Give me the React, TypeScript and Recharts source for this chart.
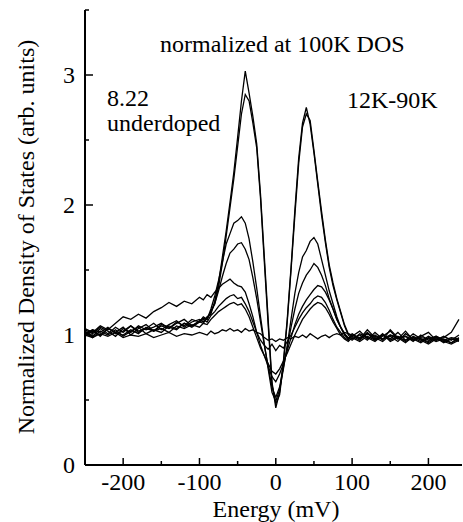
import { LineChart, Line, XAxis, YAxis } from 'recharts'

// energy grid (mV): coarse in the tails, finer around the gap
const energy = [
  -250, -240, -230, -220, -210, -200, -190, -180, -170, -160, -150, -140, -130, -120, -110, -100,
  -95, -90, -85, -80, -75, -70, -65, -60, -55, -50, -45, -40, -35, -30, -25, -20, -15, -10, -5, 0,
  5, 10, 15, 20, 25, 30, 35, 40, 45, 50, 55, 60, 65, 70, 75, 80, 85, 90, 95,
  100, 110, 120, 130, 140, 150, 160, 170, 180, 190, 200, 210, 220, 230, 240,
]

const dosA = [
  1.03, 0.99, 1.05, 1.01, 1.06, 1.02, 1.07, 1.03, 1.05, 1.09, 1.04, 1.08, 1.11, 1.06, 1.10, 1.12,
  1.10, 1.14, 1.16, 1.26, 1.40, 1.60, 1.80, 2.02, 2.25, 2.52, 2.80, 3.03, 2.86, 2.68, 2.47, 2.08, 1.60, 1.12, 0.64, 0.44,
  0.56, 0.80, 1.12, 1.52, 1.96, 2.36, 2.63, 2.75, 2.62, 2.40, 2.16, 1.92, 1.71, 1.52, 1.38, 1.27, 1.17, 1.07, 1.00,
  0.97, 1.00, 0.96, 1.02, 0.97, 0.99, 0.95, 1.01, 0.97, 0.94, 0.98, 0.95, 0.97, 0.94, 0.98,
]
const dosB = [
  1.01, 1.04, 0.99, 1.05, 1.02, 1.06, 1.00, 1.05, 1.08, 1.03, 1.07, 1.05, 1.09, 1.12, 1.07, 1.11,
  1.13, 1.12, 1.18, 1.24, 1.37, 1.55, 1.76, 1.98, 2.20, 2.45, 2.70, 2.85, 2.80, 2.63, 2.44, 2.05, 1.56, 1.08, 0.62, 0.47,
  0.54, 0.78, 1.10, 1.50, 1.92, 2.32, 2.60, 2.70, 2.65, 2.42, 2.18, 1.95, 1.73, 1.54, 1.40, 1.28, 1.18, 1.08, 1.01,
  0.99, 0.96, 1.01, 0.97, 1.00, 0.96, 0.99, 0.95, 0.98, 0.97, 0.94, 0.98, 0.95, 0.97, 0.95,
]
const dosC = [
  1.04, 1.01, 1.06, 1.03, 0.99, 1.05, 1.02, 1.07, 1.04, 1.06, 1.09, 1.05, 1.10, 1.07, 1.12, 1.10,
  1.14, 1.12, 1.20, 1.30, 1.42, 1.56, 1.70, 1.78, 1.86, 1.88, 1.91, 1.86, 1.74, 1.56, 1.36, 1.14, 0.93, 0.74, 0.56, 0.49,
  0.58, 0.74, 0.92, 1.12, 1.32, 1.48, 1.60, 1.65, 1.72, 1.75, 1.70, 1.58, 1.46, 1.34, 1.24, 1.14, 1.06, 1.00, 0.97,
  1.00, 0.97, 1.02, 0.96, 0.99, 1.03, 0.97, 0.99, 0.95, 1.00, 0.96, 0.98, 0.94, 0.97, 0.96,
]
const dosD = [
  1.00, 1.04, 1.02, 1.06, 1.01, 1.03, 1.07, 1.02, 1.05, 1.03, 1.08, 1.06, 1.04, 1.09, 1.07, 1.10,
  1.09, 1.13, 1.18, 1.24, 1.34, 1.45, 1.55, 1.63, 1.66, 1.70, 1.71, 1.66, 1.58, 1.44, 1.28, 1.10, 0.92, 0.76, 0.60, 0.52,
  0.60, 0.75, 0.90, 1.06, 1.20, 1.32, 1.40, 1.46, 1.50, 1.55, 1.52, 1.46, 1.38, 1.28, 1.20, 1.12, 1.06, 1.01, 0.98,
  0.96, 1.01, 0.98, 0.95, 1.00, 0.97, 1.02, 0.96, 0.98, 0.95, 0.99, 0.96, 0.98, 1.02, 1.12,
]
const dosE = [
  1.05, 1.02, 1.07, 1.04, 1.09, 1.14, 1.12, 1.16, 1.13, 1.18, 1.21, 1.25, 1.22, 1.26, 1.24, 1.29,
  1.27, 1.31, 1.29, 1.33, 1.36, 1.39, 1.41, 1.43, 1.40, 1.38, 1.37, 1.33, 1.24, 1.14, 1.02, 0.92, 0.84, 0.76, 0.68, 0.64,
  0.70, 0.78, 0.88, 0.98, 1.08, 1.16, 1.22, 1.27, 1.31, 1.35, 1.38, 1.37, 1.33, 1.27, 1.20, 1.12, 1.06, 1.01, 0.97,
  0.99, 1.03, 0.97, 1.00, 0.96, 1.04, 0.98, 0.96, 1.01, 0.97, 0.95, 0.99, 0.96, 0.94, 0.97,
]
const dosF = [
  1.02, 0.98, 1.03, 1.00, 1.04, 0.99, 1.03, 1.06, 1.01, 1.04, 1.02, 1.07, 1.05, 1.09, 1.06, 1.10,
  1.12, 1.10, 1.15, 1.18, 1.22, 1.25, 1.28, 1.30, 1.31, 1.28, 1.29, 1.24, 1.18, 1.10, 1.02, 0.96, 0.92, 0.89, 0.93, 0.88,
  0.92, 0.90, 0.95, 1.00, 1.06, 1.12, 1.17, 1.21, 1.24, 1.28, 1.30, 1.29, 1.25, 1.19, 1.12, 1.06, 1.02, 0.98, 0.96,
  1.01, 0.97, 1.04, 0.98, 0.95, 1.00, 0.97, 1.03, 0.96, 0.99, 1.02, 0.96, 0.99, 0.96, 1.00,
]
const dosG = [
  0.99, 1.03, 1.00, 1.05, 1.02, 1.00, 1.04, 1.01, 1.06, 1.03, 1.05, 1.02, 1.07, 1.05, 1.08, 1.06,
  1.09, 1.08, 1.12, 1.15, 1.18, 1.20, 1.22, 1.24, 1.25, 1.23, 1.24, 1.20, 1.14, 1.06, 0.98, 0.90, 0.84, 0.78, 0.72, 0.70,
  0.74, 0.80, 0.86, 0.93, 1.00, 1.06, 1.12, 1.16, 1.20, 1.23, 1.25, 1.24, 1.21, 1.16, 1.10, 1.05, 1.00, 0.97, 0.95,
  0.98, 0.95, 0.99, 0.96, 1.01, 0.95, 0.98, 0.94, 0.99, 0.96, 0.93, 0.97, 0.95, 0.93, 0.96,
]
const dosH = [
  1.00, 0.98, 1.01, 0.99, 1.02, 0.98, 1.00, 0.99, 1.01, 0.98, 1.00, 1.02, 0.99, 1.01, 1.00, 1.02,
  1.01, 1.00, 1.03, 1.01, 1.02, 1.04, 1.03, 1.05, 1.03, 1.04, 1.02, 1.05, 1.03, 1.04, 1.02, 1.01, 0.98, 0.96, 0.97, 0.95,
  0.97, 0.96, 0.98, 0.97, 0.99, 0.98, 1.00, 0.98, 1.01, 0.99, 0.97, 0.99, 1.00, 0.98, 1.00, 1.01, 1.00, 1.02, 1.01,
  1.00, 0.98, 1.01, 0.99, 0.97, 1.00, 0.98, 0.99, 0.96, 0.98, 0.97, 0.99, 0.96, 0.98, 0.97,
]

const seriesKeys = ['a', 'b', 'c', 'd', 'e', 'f', 'g', 'h']
const seriesValues = [dosA, dosB, dosC, dosD, dosE, dosF, dosG, dosH]

const xTicks = [-200, -150, -100, -50, 0, 50, 100, 150, 200]
const yTicks = [0, 0.5, 1, 1.5, 2, 2.5, 3, 3.5]

const data = energy.map((e, i) => {
  const row: any = { energy: e }
  seriesKeys.forEach((k, j) => { row[k] = seriesValues[j][i] })
  return row
})

const FONT = "'Liberation Serif', 'DejaVu Serif', 'Times New Roman', Times, serif"
const textStyle = { fontFamily: FONT, fontSize: 24 }

const BottomTick = ({ x, y, payload }: any) => {
  const major = payload.value % 100 === 0
  return (
    <g>
      <line x1={x} x2={x} y1={y} y2={y - (major ? 7 : 4)} stroke="#000" strokeWidth={1.5} />
      {major && (
        <text x={x} y={y + 25} textAnchor="middle" style={textStyle} fill="#000">
          {payload.value}
        </text>
      )}
    </g>
  )
}

const TopTick = ({ x, y, payload }: any) => {
  const major = payload.value % 100 === 0
  return <line x1={x} x2={x} y1={y} y2={y + (major ? 7 : 5)} stroke="#000" strokeWidth={1.5} />
}

const LeftTick = ({ x, y, payload }: any) => {
  const major = Number.isInteger(payload.value)
  return (
    <g>
      <line x1={x} x2={x + (major ? 8 : 4)} y1={y} y2={y} stroke="#000" strokeWidth={1.5} />
      {major && payload.value <= 3 && (
        <text x={x - 10} y={y + 8} textAnchor="end" style={textStyle} fill="#000">
          {payload.value}
        </text>
      )}
    </g>
  )
}

const RightTick = ({ x, y, payload }: any) => {
  const major = Number.isInteger(payload.value)
  return <line x1={x} x2={x - (major ? 7 : 4)} y1={y} y2={y} stroke="#000" strokeWidth={1.5} />
}

export default function App() {
  return (
    <div style={{ position: 'absolute', left: 0, top: 0, width: 463, height: 522, background: '#fff', fontFamily: FONT }}>
      <LineChart width={463} height={522} data={data} margin={{ top: 10, right: 1, left: 0, bottom: 0 }}>
        <XAxis
          dataKey="energy"
          type="number"
          domain={[-250, 244]}
          ticks={xTicks}
          allowDataOverflow
          height={57}
          tickSize={0}
          tickMargin={0}
          tickLine={false}
          tick={<BottomTick />}
          axisLine={{ stroke: '#000', strokeWidth: 2 }}
          interval={0}
        />
        <XAxis
          xAxisId="top"
          orientation="top"
          dataKey="energy"
          type="number"
          domain={[-250, 244]}
          ticks={xTicks}
          allowDataOverflow
          height={0}
          tickSize={0}
          tickMargin={0}
          tickLine={false}
          tick={<TopTick />}
          axisLine={{ stroke: '#000', strokeWidth: 2 }}
          interval={0}
        />
        <YAxis
          type="number"
          domain={[0, 3.5]}
          ticks={yTicks}
          allowDataOverflow
          width={85}
          tickSize={0}
          tickMargin={0}
          tickLine={false}
          tick={<LeftTick />}
          axisLine={{ stroke: '#000', strokeWidth: 2 }}
          interval={0}
        />
        <YAxis
          yAxisId="right"
          orientation="right"
          type="number"
          domain={[0, 3.5]}
          ticks={yTicks}
          allowDataOverflow
          width={0}
          tickSize={0}
          tickMargin={0}
          tickLine={false}
          tick={<RightTick />}
          axisLine={{ stroke: '#000', strokeWidth: 2 }}
          interval={0}
        />
        {seriesKeys.map((k) => (
          <Line
            key={k}
            dataKey={k}
            type="linear"
            stroke="#000"
            strokeWidth={1.3}
            dot={false}
            isAnimationActive={false}
          />
        ))}
      </LineChart>
      <svg width={463} height={522} style={{ position: 'absolute', left: 0, top: 0, pointerEvents: 'none' }}>
        <g style={textStyle} fill="#000">
          <text x={160} y={52}>normalized at 100K DOS</text>
          <text x={107} y={106}>8.22</text>
          <text x={107} y={131}>underdoped</text>
          <text x={347} y={108}>12K-90K</text>
          <text x={276} y={517} textAnchor="middle">Energy (mV)</text>
          <text x={34} y={237} textAnchor="middle" transform="rotate(-90 34 237)">
            Normalized Density of States (arb. units)
          </text>
        </g>
      </svg>
    </div>
  )
}
